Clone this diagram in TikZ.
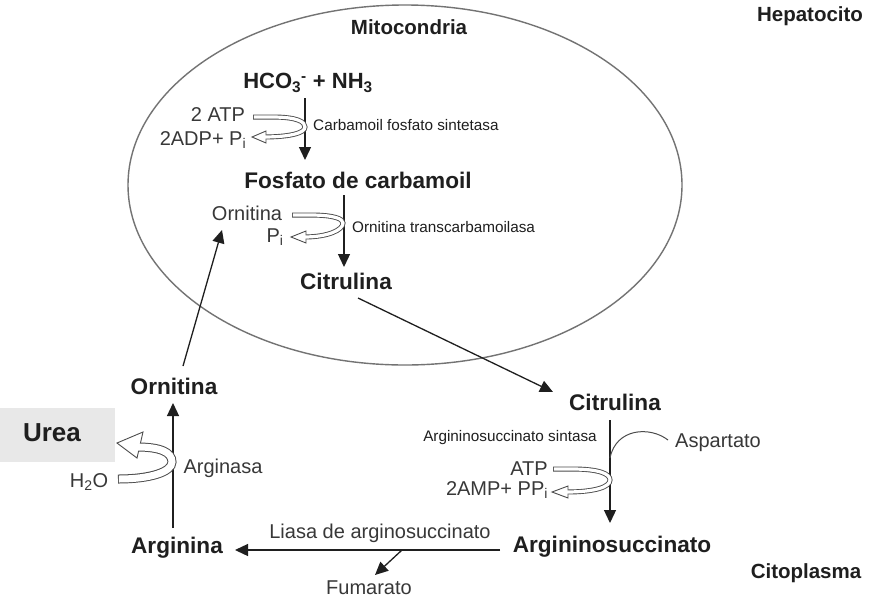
\documentclass[tikz,border=0pt]{standalone}
\usepackage{fontspec}
\setmainfont{Liberation Sans}
\usetikzlibrary{arrows.meta}
\begin{document}
\begin{tikzpicture}[x=1pt,y=-1pt,
 lbl/.style={inner sep=0pt, text=black!88},
 bigb/.style={lbl, font=\fontsize{22.6}{26}\selectfont\bfseries},
 secb/.style={lbl, font=\fontsize{20.5}{24}\selectfont\bfseries},
 reg/.style={lbl, text=black!78, font=\fontsize{20}{24}\selectfont},
 enz/.style={lbl, font=\fontsize{15.3}{18}\selectfont},
 arr/.style={line width=1.3pt, draw=black!88, -{Triangle[length=13pt,width=12pt]}},
 thin/.style={line width=1pt, draw=black!70},
 bandout/.style={line width=5pt, draw=black!70},
 bandin/.style={line width=3.2pt, draw=white},
 headst/.style={fill=white, draw=black!70, line width=0.9pt, line join=miter},
 memb/.style={draw=black!55, line width=1.4pt}]
\useasboundingbox (0,0) rectangle (869,600);
\fill[white] (0,0) rectangle (869,600);

% membrane
\draw[memb] (405,185) ellipse [x radius=277pt, y radius=180pt];

% labels
\node[secb] (hep) at (810,16) {Hepatocito};
\node[secb] (mito) at (409,27) {Mitocondria};
\node[secb] (cito) at (806,573) {Citoplasma};

\node[lbl, font=\fontsize{22}{26}\selectfont\bfseries] (hco) at (308,83) {HCO\textsubscript{3}\textsuperscript{-} + NH\textsubscript{3}};
\node[reg] (atp1) at (218,115) {2 ATP};
\node[reg] (adp) at (203,140) {2ADP+ P\textsubscript{i}};
\node[enz, anchor=west] (cps) at (313,125) {Carbamoil fosfato sintetasa};
\node[bigb] (fcp) at (358,180) {Fosfato de carbamoil};
\node[reg] (orn1) at (247,213) {Ornitina};
\node[reg] (pi) at (275,237) {P\textsubscript{i}};
\node[enz, anchor=west] (otc) at (352,227) {Ornitina transcarbamoilasa};
\node[bigb] (cit1) at (346,281) {Citrulina};

\node[bigb] (cit2) at (615,402) {Citrulina};
\node[enz] (ass) at (510,438) {Argininosuccinato sintasa};
\node[reg] (asp) at (718,443) {Aspartato};
\node[reg] (atp2) at (529,469) {ATP};
\node[reg] (amp) at (497,490) {2AMP+ PP\textsubscript{i}};
\node[bigb] (asuc) at (612,547) {Argininosuccinato};
\node[reg] (liasa) at (380,533) {Liasa de arginosuccinato};
\node[reg] (fum) at (369,588) {Fumarato};
\node[bigb] (arg) at (177,548) {Arginina};
\node[bigb] (orn2) at (174,386) {Ornitina};
\fill[black!9] (0,408) rectangle (115,462);
\node[lbl, font=\fontsize{26}{30}\selectfont\bfseries] (urea) at (52,433) {Urea};
\node[reg] (argin) at (223,468) {Arginasa};
\node[reg] (h2o) at (89,482) {H\textsubscript{2}O};

% main connectors
\draw[arr] ([xshift=-3pt,yshift=-15pt]hco.center) -- ([xshift=-53pt,yshift=20pt]fcp.center);
\draw[arr] ([xshift=-14pt,yshift=-15pt]fcp.center) -- ([xshift=-2pt,yshift=14pt]cit1.center);
\draw[arr] ([xshift=12pt,yshift=-17pt]cit1.center) -- ([xshift=-62pt,yshift=10pt]cit2.center);
\draw[arr] ([xshift=-5pt,yshift=-18pt]cit2.center) -- ([xshift=-2pt,yshift=24pt]asuc.center);
\draw[arr] ([xshift=-112pt,yshift=-3pt]asuc.center) -- ([xshift=58pt,yshift=-2pt]arg.center);
\coordinate (fb) at (402,550);
\draw[arr] (fb) -- ([xshift=6pt,yshift=13pt]fum.center);
\draw[arr] ([xshift=-4pt,yshift=20pt]arg.center) -- ([xshift=-1pt,yshift=-17pt]orn2.center);
\draw[arr] ([xshift=9pt,yshift=20pt]orn2.center) -- ([xshift=-25pt,yshift=-17pt]orn1.center);

% aspartato
\coordinate (aspj) at (610,458);
\draw[thin] ([xshift=-50pt,yshift=3pt]asp.center) .. controls (650,426) and (616,428) .. (aspj);

% hollow arrows
% 1: 2 ATP -> 2ADP + Pi
\draw[bandout] (253,117) -- (272,117) .. controls (298,117) and (305,122) .. (305,127) .. controls (305,133) and (290,137) .. (263,137);
\filldraw[headst] (252,137) -- (266,131) -- (266,143) -- cycle;
\draw[bandin, shorten <=0.9pt] (253,117) -- (272,117) .. controls (298,117) and (305,122) .. (305,127) .. controls (305,133) and (290,137) .. (263,137);
% 2: Ornitina -> Pi
\draw[bandout] (292,215) -- (310,215) .. controls (335,215) and (343,219) .. (343,223) .. controls (343,230) and (328,237) .. (304,237);
\filldraw[headst] (291,237) -- (306,231) -- (306,243) -- cycle;
\draw[bandin, shorten <=0.9pt] (292,215) -- (310,215) .. controls (335,215) and (343,219) .. (343,223) .. controls (343,230) and (328,237) .. (304,237);
% 3: ATP -> 2AMP + PPi
\draw[bandout] (553,469) -- (572,469) .. controls (600,469) and (610,474) .. (610,480) .. controls (610,487) and (595,492) .. (566,492);
\filldraw[headst] (552,492) -- (568,486) -- (568,498) -- cycle;
\draw[bandin, shorten <=0.9pt] (553,469) -- (572,469) .. controls (600,469) and (610,474) .. (610,480) .. controls (610,487) and (595,492) .. (566,492);
% 4: H2O -> Urea
\draw[bandout, line width=9pt] (118,479) .. controls (150,479) and (172,472) .. (172,462) .. controls (172,452) and (160,447) .. (137,447);
\filldraw[headst] (117,443) -- (143,432) -- (137,458) -- cycle;
\draw[bandin, line width=7pt, shorten <=0.9pt] (118,479) .. controls (150,479) and (172,472) .. (172,462) .. controls (172,452) and (160,447) .. (137,447);
\end{tikzpicture}
\end{document}
